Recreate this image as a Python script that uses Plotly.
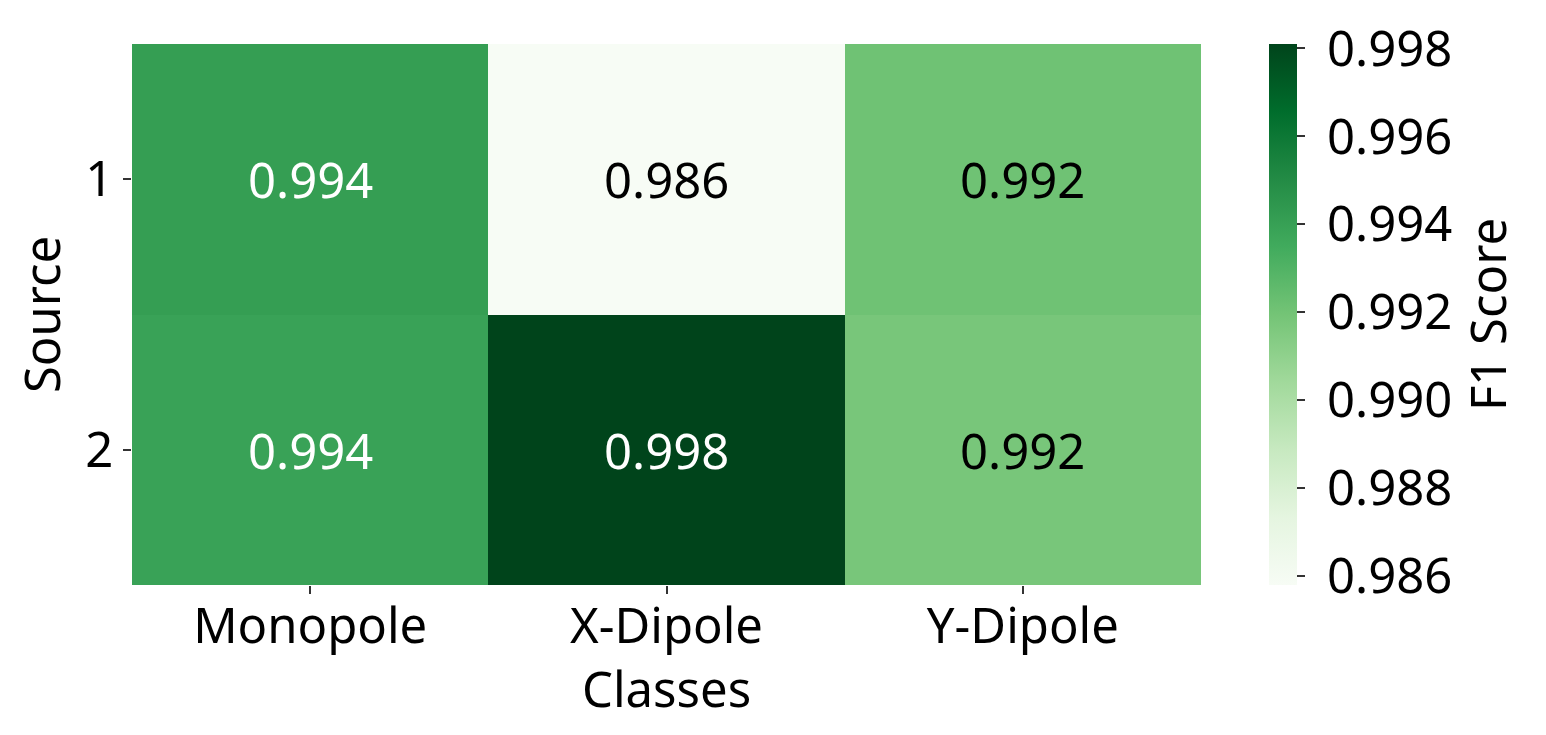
import plotly.graph_objects as go

classes = ["Monopole", "X-Dipole", "Y-Dipole"]
sources = ["1", "2"]
f1_scores = [
    [0.9941, 0.9858, 0.9921],
    [0.9939, 0.9981, 0.9918],
]
cbar_ticks = [0.986, 0.988, 0.990, 0.992, 0.994, 0.996, 0.998]

zmin, zmax = 0.9858, 0.9981

greens = ["#f7fcf5", "#e5f5e0", "#c7e9c0", "#a1d99b", "#74c476",
          "#41ab5d", "#238b45", "#006d2c", "#00441b"]
colorscale = [[i / (len(greens) - 1), c] for i, c in enumerate(greens)]

FONT = "Noto Sans"
FS = 49

fig = go.Figure(go.Heatmap(
    z=f1_scores, x=classes, y=sources,
    colorscale=colorscale, zmin=zmin, zmax=zmax,
    xgap=0, ygap=0,
    hoverinfo="skip",
    colorbar=dict(
        thickness=28, len=1.0, lenmode="fraction",
        x=1.0636, xanchor="left", xpad=0,
        y=0.5, yanchor="middle", ypad=0,
        outlinewidth=0,
        tickvals=cbar_ticks,
        ticktext=["\u00a0" + f"{t:.3f}" for t in cbar_ticks],
        ticks="outside", ticklen=8, tickwidth=1.5, tickcolor="#333",
        tickfont=dict(family=FONT, size=FS, color="black"),
        title=dict(text="F1 Score", side="right",
                   font=dict(family=FONT, size=FS, color="black")),
    ),
))

annotations = []
for i, s in enumerate(sources):
    for j, c in enumerate(classes):
        v = f1_scores[i][j]
        norm = (v - zmin) / (zmax - zmin)
        color = "white" if norm > 0.6 else "black"
        annotations.append(dict(
            x=j, y=i, xref="x", yref="y", text=f"{v:.3f}", showarrow=False,
            font=dict(family=FONT, size=FS, color=color),
        ))

# x-axis title placed as annotation for precise vertical control
annotations.append(dict(
    x=0.5, y=-0.19, xref="paper", yref="paper", text="Classes",
    showarrow=False, xanchor="center", yanchor="middle",
    font=dict(family=FONT, size=FS, color="black"),
))

fig.update_layout(
    width=1546, height=735,
    margin=dict(l=124, r=353, t=36, b=158, autoexpand=False),
    paper_bgcolor="white", plot_bgcolor="white",
    font=dict(family=FONT, size=FS, color="black"),
    annotations=annotations,
    xaxis=dict(
        type="category",
        ticks="outside", ticklen=8, tickwidth=1.5, tickcolor="#333",
        ticklabelstandoff=-10,
        tickfont=dict(family=FONT, size=FS, color="black"),
        showgrid=False, zeroline=False, showline=False,
        automargin=False,
    ),
    yaxis=dict(
        type="category",
        title=dict(text="Source", standoff=22,
                   font=dict(family=FONT, size=FS, color="black")),
        autorange="reversed",
        ticks="outside", ticklen=8, tickwidth=1.5, tickcolor="#333",
        tickfont=dict(family=FONT, size=FS, color="black"),
        showgrid=False, zeroline=False, showline=False,
        automargin=False,
    ),
)

fig.write_html("out.html")
